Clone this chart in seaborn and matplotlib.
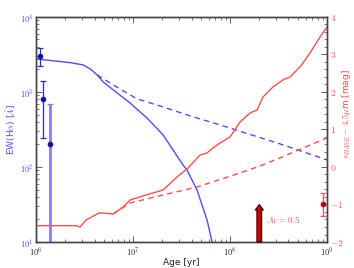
import numpy as np
import pandas as pd
import matplotlib
matplotlib.use("Agg")
import matplotlib.pyplot as plt
import seaborn as sns
from matplotlib.ticker import FixedLocator, FixedFormatter, LogLocator, NullFormatter, AutoMinorLocator

# ---- data ----
blue_solid_age = [1.0e6, 2.24e6, 3.05e6, 3.61e6, 4.26e6, 4.91e6, 6.84e6, 9.31e6, 1.18e7, 1.39e7,
                  2.04e7, 2.58e7, 3.27e7, 3.60e7, 4.57e7, 5.79e7, 6.52e7, 7.18e7]
blue_solid_ew = [2754, 2460, 2291, 2027, 1686, 1360, 970, 713, 541, 450,
                 267, 169, 106, 91, 49, 19.6, 10, 5.75]

blue_dash_age = [4.26e6, 5.79e6, 7.89e6, 1.10e7, 1.90e7, 3.87e7, 7.89e7, 3.27e8, 1.0e9]
blue_dash_ew = [1686, 1318, 1032, 807, 650, 479, 363, 203, 124]

red_solid_age = [1.0e6, 2.58e6, 2.84e6, 3.27e6, 4.46e6, 4.91e6, 6.22e6, 7.89e6, 9.31e6, 1.36e7,
                 1.61e7, 2.04e7, 2.84e7, 3.69e7, 4.91e7, 5.79e7, 6.68e7, 7.89e7, 1.0e8, 1.27e8,
                 1.61e8, 1.90e8, 2.19e8, 2.77e8, 3.52e8, 4.16e8, 5.27e8, 6.68e8, 8.48e8, 1.0e9]
red_solid_mag = [-1.565, -1.565, -1.60, -1.413, -1.227, -1.227, -1.253, -1.067, -0.88, -0.747,
                 -0.693, -0.613, -0.267, -0.027, 0.32, 0.373, 0.507, 0.64, 0.80, 1.20,
                 1.44, 1.52, 1.867, 2.133, 2.32, 2.40, 2.667, 3.04, 3.467, 3.733]

red_dash_age = [6.22e6, 9.31e6, 2.04e7, 4.57e7, 1.27e8, 2.04e8, 3.27e8, 5.66e8, 1.0e9]
red_dash_mag = [-1.253, -0.96, -0.747, -0.533, -0.16, 0.027, 0.24, 0.507, 0.773]

obs_age = [1.1e6, 1.18e6, 1.4e6]
obs_ew = [3020, 807, 203]
obs_ew_lo = [2220, 244, 1]
obs_ew_hi = [3860, 1400, 690]

red_pt_age = [9.1e8]
red_pt_mag = [-1.0]
red_pt_err = [0.3]

arrow_age = 2.0e8
arrow_from = -2.0
arrow_to = -1.0
arrow_label = r"$A_V = 0.5$"

xticks = [1e6, 1e7, 1e8, 1e9]
xticklabels = [r"$10^6$", r"$10^7$", r"$10^8$", r"$10^9$"]
lyticks = [1e1, 1e2, 1e3, 1e4]
lyticklabels = [r"$10^1$", r"$10^2$", r"$10^3$", r"$10^4$"]
ryticks = [-2, -1, 0, 1, 2, 3, 4]
ryticklabels = [r"$-2$", r"$-1$", r"$0$", r"$1$", r"$2$", r"$3$", r"$4$"]

# ---- style ----
sns.set_style("ticks")
plt.rcParams['font.family'] = ['DejaVu Sans']
plt.rcParams['mathtext.fontset'] = 'cm'

BLUE = "#4d4dff"
RED = "#ff4d4d"
SPINE = "#444444"

fig = plt.figure(figsize=(3.54, 2.68), dpi=100)
ax = fig.add_axes([0.102, 0.097, 0.822, 0.840])
ax2 = ax.twinx()

sns.lineplot(x=blue_solid_age, y=blue_solid_ew, ax=ax, color=BLUE, lw=1.0, estimator=None, sort=False)
sns.lineplot(x=blue_dash_age, y=blue_dash_ew, ax=ax, color=BLUE, lw=1.0, estimator=None, sort=False,
             linestyle=(0, (4, 3)))

# observations
ax.errorbar(obs_age[:2], obs_ew[:2],
            yerr=[np.array(obs_ew[:2]) - np.array(obs_ew_lo[:2]), np.array(obs_ew_hi[:2]) - np.array(obs_ew[:2])],
            fmt='none', ecolor="#2a2acc", elinewidth=0.9, capsize=2.2, capthick=0.9, zorder=4)
ax.errorbar(obs_age[2:], obs_ew[2:],
            yerr=[np.array(obs_ew[2:]) - np.array(obs_ew_lo[2:]), np.array(obs_ew_hi[2:]) - np.array(obs_ew[2:])],
            fmt='none', ecolor="#8080ff", elinewidth=2.0, capsize=2.2, capthick=0.9, zorder=4)
sns.scatterplot(x=obs_age, y=obs_ew, ax=ax, color="#1010a0", s=14, edgecolor="#1010a0", zorder=5)

sns.lineplot(x=red_solid_age, y=red_solid_mag, ax=ax2, color=RED, lw=1.0, estimator=None, sort=False)
sns.lineplot(x=red_dash_age, y=red_dash_mag, ax=ax2, color=RED, lw=1.0, estimator=None, sort=False,
             linestyle=(0, (4, 3)))
ax2.errorbar(red_pt_age, red_pt_mag, yerr=red_pt_err, fmt='none', ecolor=RED, elinewidth=0.9,
             capsize=2.2, capthick=0.9, zorder=4)
sns.scatterplot(x=red_pt_age, y=red_pt_mag, ax=ax2, color="#bb0000", s=14, edgecolor="#bb0000", zorder=5)

ax2.annotate("", xy=(arrow_age, arrow_to), xytext=(arrow_age, arrow_from),
             arrowprops=dict(arrowstyle="simple,head_width=0.6,head_length=0.4,tail_width=0.35",
                             fc="#cc0000", ec="#220000", lw=0.7, shrinkA=0, shrinkB=0))
ax2.text(2.35e8, -1.42, arrow_label, color=RED, fontsize=6.5, va="center", ha="left")

# axes
ax.set_xscale("log")
ax.set_yscale("log")
ax.set_xlim(1e6, 1e9)
ax.set_ylim(10, 1e4)
ax2.set_ylim(-2, 4)

ax.xaxis.set_major_locator(FixedLocator(xticks))
ax.xaxis.set_major_formatter(FixedFormatter(xticklabels))
ax.xaxis.set_minor_locator(LogLocator(base=10, subs=np.arange(2, 10), numticks=20))
ax.xaxis.set_minor_formatter(NullFormatter())
ax.yaxis.set_major_locator(FixedLocator(lyticks))
ax.yaxis.set_major_formatter(FixedFormatter(lyticklabels))
ax.yaxis.set_minor_locator(LogLocator(base=10, subs=np.arange(2, 10), numticks=20))
ax.yaxis.set_minor_formatter(NullFormatter())
ax2.yaxis.set_major_locator(FixedLocator(ryticks))
ax2.yaxis.set_major_formatter(FixedFormatter(ryticklabels))
ax2.yaxis.set_minor_locator(AutoMinorLocator(5))

for a in (ax, ax2):
    for s in a.spines.values():
        s.set_color(SPINE)
        s.set_linewidth(1.0)
        s.set_visible(True)

ax.tick_params(axis="x", which="both", direction="in", top=True, colors=SPINE, labelcolor="#222222",
               labelsize=6, pad=2)
ax.tick_params(axis="x", which="major", length=4, width=0.6)
ax.tick_params(axis="x", which="minor", length=2, width=0.5)
ax.tick_params(axis="y", which="both", direction="in", colors=SPINE, labelcolor=BLUE, labelsize=6, pad=2)
ax.tick_params(axis="y", which="major", length=4, width=0.6)
ax.tick_params(axis="y", which="minor", length=2, width=0.5)
ax2.tick_params(axis="y", which="both", direction="in", colors=SPINE, labelcolor=RED, labelsize=7, pad=2)
ax2.tick_params(axis="y", which="major", length=4, width=0.6)
ax2.tick_params(axis="y", which="minor", length=2, width=0.5)

ax.set_xlabel("Age [yr]", fontsize=6.5, color="#222222", labelpad=0)
ax.set_ylabel(r"EW(H$\alpha$) [$\AA$]", fontsize=6.5, color=BLUE, labelpad=2)
ax2.set_ylabel(r"$s_{BASE} - 4.5\mu$m [mag]", fontsize=6.5, color=RED)
ax2.yaxis.set_label_coords(1.045, 0.57)

fig.savefig("out.png", dpi=100, facecolor="white")
